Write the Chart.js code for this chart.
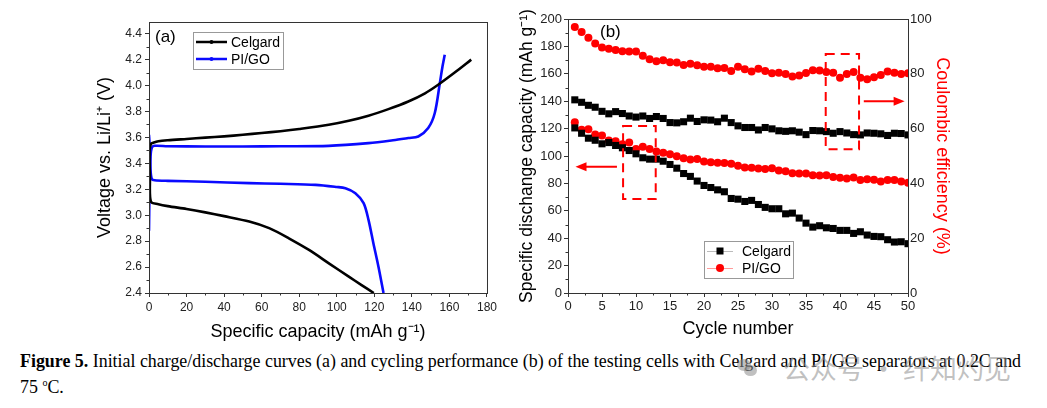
<!DOCTYPE html>
<html>
<head>
<meta charset="utf-8">
<script src="https://cdn.jsdelivr.net/npm/chart.js@4.4.1/dist/chart.umd.min.js"></script>
<style>
  body { margin: 0; background: #fff; width: 1047px; height: 408px; position: relative; overflow: hidden; }
  canvas { position: absolute; top: 0; }
  #chartA { left: 90px; }
  #chartB { left: 510px; }
  #caption {
    position: absolute; left: 20px; top: 351px; width: 1027px;
    font-family: "Liberation Serif", "Times New Roman", serif; font-size: 17.9px; line-height: 21px;
    color: #000; white-space: nowrap;
  }
  #caption sup { font-size: 10px; vertical-align: 7px; }
  #wm {
    position: absolute; left: 737px; top: 350px; height: 34px; display: flex; align-items: center;
    color: rgba(140,140,140,0.55); font-family: "Noto Sans CJK SC", sans-serif; font-size: 27px;
  }
  #wm .logo { position: relative; width: 20px; height: 20px; margin-right: 26px; }
  #wm .logo i { position: absolute; border-radius: 50%; background: rgba(140,140,140,0.55); }
</style>
</head>
<body>
<canvas id="chartA" width="410" height="345"></canvas>
<canvas id="chartB" width="455" height="345"></canvas>
<div id="caption"><b>Figure 5.</b> Initial charge/discharge curves (a) and cycling performance (b) of the testing cells with Celgard and PI/GO separators at 0.2C and<br>75 <sup>o</sup>C.</div>
<div id="wm"><span class="logo"><i style="left:0;top:2px;width:14px;height:12px"></i><i style="left:7px;top:8px;width:13px;height:11px"></i></span>公众号 · 纤知灼见</div>
<script>
// ---- (a) charge / discharge curves ----
const celgardChargeCap = [0, 0.3, 1, 2, 5, 10, 20, 30, 40, 50, 60, 70, 80, 95.7, 106.4, 116.9, 127.5, 138.1, 147, 154, 162.8, 171.6];
const celgardChargeV = [3.30, 3.50, 3.55, 3.557, 3.57, 3.578, 3.588, 3.598, 3.608, 3.62, 3.634, 3.648, 3.665, 3.697, 3.728, 3.767, 3.818, 3.877, 3.94, 4.006, 4.10, 4.20];
const celgardDisCap = [0, 0.5, 1, 5, 10, 20, 30, 40, 53.4, 64, 74.5, 85.2, 95.8, 106.4, 113, 119.7];
const celgardDisV = [3.55, 3.30, 3.105, 3.085, 3.07, 3.048, 3.022, 2.993, 2.951, 2.90, 2.822, 2.732, 2.629, 2.526, 2.463, 2.40];
const pigoChargeCap = [0, 0.3, 0.8, 1.5, 3, 10, 30, 50, 70, 95.7, 116.9, 130, 138.1, 143.4, 148.7, 152.2, 154.9, 156.3, 157.5];
const pigoChargeV = [2.88, 3.2, 3.45, 3.52, 3.535, 3.532, 3.53, 3.53, 3.532, 3.535, 3.556, 3.578, 3.595, 3.607, 3.672, 3.788, 4.02, 4.147, 4.238];
const pigoDisCap = [0, 0.3, 0.8, 1.5, 3, 10, 30, 53.4, 70, 88.7, 100, 104.6, 109.9, 114.3, 116.9, 119.5, 122.2, 124.9];
const pigoDisV = [3.62, 3.55, 3.35, 3.28, 3.27, 3.265, 3.258, 3.247, 3.242, 3.234, 3.218, 3.208, 3.17, 3.093, 2.964, 2.784, 2.603, 2.40];
const capTicks = [0, 20, 40, 60, 80, 100, 120, 140, 160, 180];
const voltTicks = [2.4, 2.6, 2.8, 3.0, 3.2, 3.4, 3.6, 3.8, 4.0, 4.2, 4.4];

// ---- (b) cycling performance ----
const cycles = [1, 2, 3, 4, 5, 6, 7, 8, 9, 10, 11, 12, 13, 14, 15, 16, 17, 18, 19, 20, 21, 22, 23, 24, 25,
  26, 27, 28, 29, 30, 31, 32, 33, 34, 35, 36, 37, 38, 39, 40, 41, 42, 43, 44, 45, 46, 47, 48, 49, 50];
const celgardCapacity = [120.5, 116.6, 113.0, 111.5, 108.9, 109.8, 107.7, 106.0, 104.0, 101.6, 98.7, 97.7, 97.7, 96.2, 93.8,
  91.1, 87.2, 85.1, 81.7, 78.5, 77.0, 75.3, 73.9, 69.0, 68.5, 66.8, 67.6, 64.6, 62.5, 61.5, 61.5, 57.8, 58.3, 54.7, 51.0,
  48.1, 49.1, 47.6, 47.1, 45.7, 45.7, 43.5, 44.7, 42.3, 41.3, 41.1, 38.9, 37.2, 37.4, 36.0];
const pigoCapacity = [124.7, 119.1, 119.6, 115.7, 114.9, 111.3, 110.8, 108.6, 109.8, 105.2, 106.7, 105.2, 103.3, 102.3, 101.3,
  99.9, 98.4, 97.4, 97.9, 96.0, 95.5, 95.0, 94.8, 94.3, 92.8, 91.6, 91.4, 90.9, 90.6, 91.1, 89.4, 88.9, 87.5, 87.2, 87.2,
  86.0, 85.8, 86.0, 84.6, 84.1, 83.6, 84.3, 82.4, 83.1, 82.6, 81.4, 82.4, 82.4, 81.4, 80.4];
const celgardCE = [70.5, 69.6, 68.5, 67.8, 66.3, 65.4, 66.2, 65.5, 64.6, 64.2, 64.6, 63.7, 64.4, 63.7, 62.2, 62.1, 62.5, 63.8,
  62.6, 63.2, 63.1, 62.5, 63.8, 62.2, 61.0, 60.4, 60.4, 59.5, 60.4, 59.9, 59.2, 59.0, 59.2, 58.7, 57.8, 59.3, 59.2, 58.9,
  58.3, 58.9, 58.4, 57.8, 57.7, 58.4, 58.3, 58.1, 57.5, 58.3, 58.2, 57.7];
const pigoCE = [97.1, 95.3, 93.2, 91.1, 89.6, 89.1, 88.7, 88.2, 88.1, 88.1, 86.6, 85.3, 84.6, 84.9, 84.2, 84.1, 83.2, 83.7,
  83.1, 82.6, 82.6, 82.0, 82.1, 81.0, 82.6, 81.7, 80.8, 81.8, 81.0, 80.2, 80.4, 79.9, 79.0, 79.4, 80.3, 81.3, 81.2, 80.7,
  80.4, 78.6, 79.9, 80.7, 78.6, 78.0, 78.7, 79.6, 80.8, 80.4, 79.9, 80.2];
const cycleTicks = [0, 5, 10, 15, 20, 25, 30, 35, 40, 45, 50];
const capacityTicks = [0, 20, 40, 60, 80, 100, 120, 140, 160, 180, 200];
const ceTicks = [0, 20, 40, 60, 80, 100];

const SANS = "'Liberation Sans', Arial, sans-serif";
const BLUE = '#0a0aff';
const RED = '#ff0000';

function pts(xs, ys) {
  return xs.map((x, i) => ({ x: x, y: ys[i] }));
}

function fixedTicks(list) {
  return scale => { scale.ticks = list.map(v => ({ value: v })); };
}

function drawFrame(ctx, a) {
  ctx.save();
  ctx.strokeStyle = '#333';
  ctx.lineWidth = 1;
  ctx.strokeRect(a.left + 0.5, a.top + 0.5, a.right - a.left, a.bottom - a.top);
  ctx.restore();
}

// small outward ticks halfway between the labelled ones
function minorTicks(ctx, scale, list, len) {
  ctx.save();
  ctx.strokeStyle = '#333';
  ctx.lineWidth = 1;
  ctx.beginPath();
  for (let i = 0; i < list.length - 1; i++) {
    const p = Math.round(scale.getPixelForValue((list[i] + list[i + 1]) / 2)) + 0.5;
    if (scale.isHorizontal()) {
      ctx.moveTo(p, scale.top); ctx.lineTo(p, scale.top + len);
    } else if (scale.position === 'left') {
      ctx.moveTo(scale.right, p); ctx.lineTo(scale.right - len, p);
    } else {
      ctx.moveTo(scale.left, p); ctx.lineTo(scale.left + len, p);
    }
  }
  ctx.stroke();
  ctx.restore();
}

function legendBox(ctx, x, y, w, h) {
  ctx.save();
  ctx.fillStyle = '#fff';
  ctx.fillRect(x, y, w, h);
  ctx.strokeStyle = '#999';
  ctx.lineWidth = 1;
  ctx.strokeRect(x + 0.5, y + 0.5, w, h);
  ctx.restore();
}

const axisCommon = {
  grid: { display: true, drawOnChartArea: false, drawTicks: true, tickLength: 4, color: '#333' },
  border: { display: false }
};

// ---------- chart (a) ----------
const panelA = {
  id: 'panelA',
  afterDatasetsDraw(chart) {
    const ctx = chart.ctx;
    const a = chart.chartArea;
    drawFrame(ctx, a);
    minorTicks(ctx, chart.scales.x, capTicks, 2.5);
    minorTicks(ctx, chart.scales.y, voltTicks, 2.5);

    ctx.save();
    ctx.fillStyle = '#000';
    ctx.font = '17px ' + SANS;
    ctx.textBaseline = 'middle';
    ctx.fillText('(a)', 65, 37);

    legendBox(ctx, 103, 32, 90, 37);
    const rows = [['Celgard', '#000', 42], ['PI/GO', BLUE, 59]];
    ctx.font = '14px ' + SANS;
    rows.forEach(r => {
      ctx.strokeStyle = r[1];
      ctx.lineWidth = 2.5;
      ctx.beginPath(); ctx.moveTo(106, r[2]); ctx.lineTo(137, r[2]); ctx.stroke();
      ctx.fillStyle = r[1];
      ctx.beginPath(); ctx.arc(121.5, r[2], 2, 0, Math.PI * 2); ctx.fill();
      ctx.fillStyle = '#000';
      ctx.fillText(r[0], 141, r[2] + 1);
    });
    ctx.restore();
  }
};

const lineSet = (label, data, color) => ({
  label: label, data: data, showLine: true, borderColor: color, backgroundColor: color,
  borderWidth: 2.6, pointRadius: 0, tension: 0.3
});

new Chart(document.getElementById('chartA'), {
  type: 'scatter',
  data: {
    datasets: [
      lineSet('Celgard charge', pts(celgardChargeCap, celgardChargeV), '#000'),
      lineSet('Celgard discharge', pts(celgardDisCap, celgardDisV), '#000'),
      lineSet('PI/GO charge', pts(pigoChargeCap, pigoChargeV), BLUE),
      lineSet('PI/GO discharge', pts(pigoDisCap, pigoDisV), BLUE)
    ]
  },
  options: {
    responsive: false,
    animation: false,
    devicePixelRatio: 1,
    layout: { padding: { top: 22, right: 11, left: 0, bottom: 0 } },
    plugins: { legend: { display: false }, tooltip: { enabled: false } },
    scales: {
      x: Object.assign({}, axisCommon, {
        type: 'linear', min: 0, max: 180,
        afterBuildTicks: fixedTicks(capTicks),
        afterFit: s => { s.height = 52; },
        ticks: { color: '#222', font: { family: SANS, size: 12 }, padding: 3, maxRotation: 0 },
        title: { display: true, text: 'Specific capacity (mAh g\u207B\u00B9)', color: '#000',
          font: { family: SANS, size: 18 }, padding: { top: 0, bottom: 2 } }
      }),
      y: Object.assign({}, axisCommon, {
        type: 'linear', min: 2.4, max: 4.49,
        afterBuildTicks: fixedTicks(voltTicks),
        afterFit: s => { s.width = 59; },
        ticks: { color: '#222', font: { family: SANS, size: 12 }, padding: 3, callback: v => v.toFixed(1) },
        title: { display: true, text: 'Voltage vs. Li/Li\u207A (V)', color: '#000',
          font: { family: SANS, size: 18 }, padding: { top: 4, bottom: 0 } }
      })
    }
  },
  plugins: [panelA]
});

// ---------- chart (b) ----------
const boxesB = [[8.1, 12.9, 68.6, 121.9], [37.9, 42.8, 105, 174.5]];
const arrowsB = [[7.2, 1.1, 92.2], [43.5, 49.5, 140]];

function arrow(ctx, x1, x2, y) {
  const dir = x2 > x1 ? 1 : -1;
  ctx.beginPath();
  ctx.moveTo(x1, y); ctx.lineTo(x2 - dir * 8, y);
  ctx.stroke();
  ctx.beginPath();
  ctx.moveTo(x2, y); ctx.lineTo(x2 - dir * 11, y - 4.5); ctx.lineTo(x2 - dir * 11, y + 4.5);
  ctx.closePath(); ctx.fill();
}

const panelB = {
  id: 'panelB',
  afterDatasetsDraw(chart) {
    const ctx = chart.ctx;
    const a = chart.chartArea;
    const xs = chart.scales.x, ys = chart.scales.y;
    drawFrame(ctx, a);
    minorTicks(ctx, xs, cycleTicks, 2.5);
    minorTicks(ctx, ys, capacityTicks, 2.5);

    ctx.save();
    ctx.strokeStyle = RED;
    ctx.fillStyle = RED;
    ctx.lineWidth = 2;
    ctx.setLineDash([9, 6]);
    boxesB.forEach(b => {
      const l = xs.getPixelForValue(b[0]), r = xs.getPixelForValue(b[1]);
      const t = ys.getPixelForValue(b[3]), btm = ys.getPixelForValue(b[2]);
      ctx.strokeRect(l, t, r - l, btm - t);
    });
    ctx.setLineDash([]);
    arrowsB.forEach(ar => arrow(ctx, xs.getPixelForValue(ar[0]), xs.getPixelForValue(ar[1]), ys.getPixelForValue(ar[2])));

    ctx.fillStyle = '#000';
    ctx.font = '17px ' + SANS;
    ctx.textBaseline = 'middle';
    ctx.fillText('(b)', 90, 32);

    legendBox(ctx, 194, 241, 89, 37);
    ctx.font = '14px ' + SANS;
    const rows = [['Celgard', '#bbb', '#000', 'rect', 251], ['PI/GO', '#ff9a9a', RED, 'circle', 268]];
    rows.forEach(r => {
      ctx.strokeStyle = r[1];
      ctx.lineWidth = 1;
      ctx.beginPath(); ctx.moveTo(197, r[4] + 0.5); ctx.lineTo(223, r[4] + 0.5); ctx.stroke();
      ctx.fillStyle = r[2];
      if (r[3] === 'rect') ctx.fillRect(206.5, r[4] - 3.5, 7, 7);
      else { ctx.beginPath(); ctx.arc(210, r[4], 4, 0, Math.PI * 2); ctx.fill(); }
      ctx.fillStyle = '#000';
      ctx.fillText(r[0], 232, r[4] + 1);
    });
    ctx.restore();
  }
};

const markSet = (label, data, color, style, radius, axis) => ({
  label: label, data: data, yAxisID: axis, showLine: false, pointStyle: style,
  pointRadius: radius, backgroundColor: color, borderColor: color, borderWidth: 0
});

new Chart(document.getElementById('chartB'), {
  type: 'scatter',
  data: {
    datasets: [
      markSet('Celgard CE', pts(cycles, celgardCE), '#000', 'rect', 5, 'y1'),
      markSet('PI/GO CE', pts(cycles, pigoCE), RED, 'circle', 4, 'y1'),
      markSet('Celgard', pts(cycles, celgardCapacity), '#000', 'rect', 5, 'y'),
      markSet('PI/GO', pts(cycles, pigoCapacity), RED, 'circle', 4, 'y')
    ]
  },
  options: {
    responsive: false,
    animation: false,
    devicePixelRatio: 1,
    layout: { padding: { top: 19, right: 0, left: 0, bottom: 0 } },
    plugins: { legend: { display: false }, tooltip: { enabled: false } },
    scales: {
      x: Object.assign({}, axisCommon, {
        type: 'linear', min: 0, max: 50,
        afterBuildTicks: fixedTicks(cycleTicks),
        afterFit: s => { s.height = 52; },
        ticks: { color: '#222', font: { family: SANS, size: 13 }, padding: 2, maxRotation: 0 },
        title: { display: true, text: 'Cycle number', color: '#000',
          font: { family: SANS, size: 18 }, padding: { top: 0, bottom: 5 } }
      }),
      y: Object.assign({}, axisCommon, {
        type: 'linear', position: 'left', min: 0, max: 200,
        afterBuildTicks: fixedTicks(capacityTicks),
        afterFit: s => { s.width = 58; },
        ticks: { color: '#222', font: { family: SANS, size: 13 }, padding: 2 },
        title: { display: true, text: 'Specific dischange capacity (mAh g\u207B\u00B9)', color: '#000',
          font: { family: SANS, size: 17.5 }, padding: { top: 7, bottom: 0 } }
      }),
      y1: Object.assign({}, axisCommon, {
        type: 'linear', position: 'right', min: 0, max: 100,
        afterBuildTicks: fixedTicks(ceTicks),
        afterFit: s => { s.width = 57; },
        grid: { display: true, drawOnChartArea: false, drawTicks: false, color: '#333' },
        ticks: { color: '#222', font: { family: SANS, size: 13 }, padding: 2 },
        title: { display: true, text: 'Coulombic efficiency (%)', color: RED,
          font: { family: SANS, size: 18 }, padding: { top: 12.5, bottom: 0 } }
      })
    }
  },
  plugins: [panelB]
});
</script>
</body>
</html>
